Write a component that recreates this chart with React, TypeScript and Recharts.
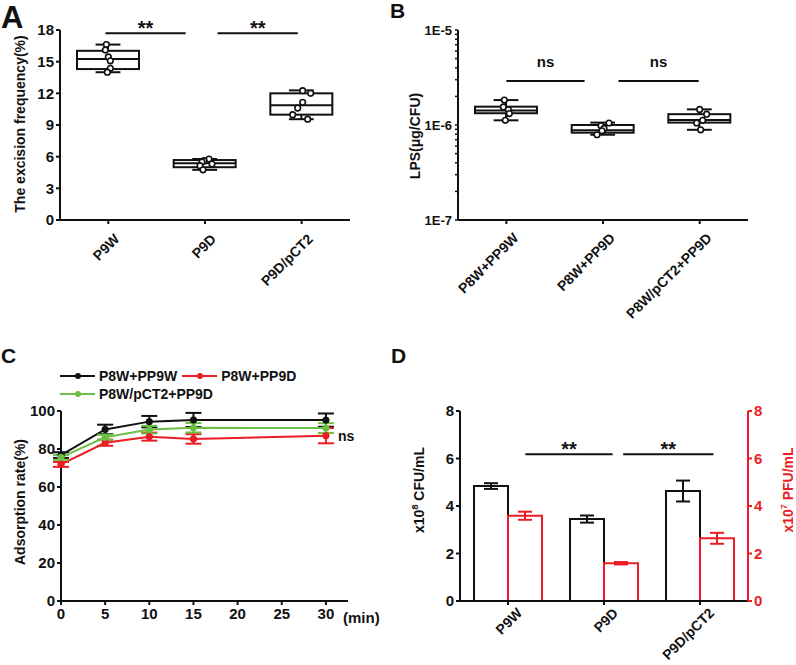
import React from "react";
import {
  Bar,
  ComposedChart,
  ErrorBar,
  Legend,
  Line,
  LineChart,
  ReferenceDot,
  ReferenceLine,
  Scatter,
  XAxis,
  YAxis,
} from "recharts";

const FONT = '"Liberation Sans", Arial, Helvetica, sans-serif';
const INK = "#111";
const RED = "#ec1c24";
const GREEN = "#6cbf44";

// ---- A: excision frequency ----
const A_CATS = ["P9W", "P9D", "P9D/pCT2"];
const A_MIN = [14.0, 4.75, 9.55];
const A_Q1 = [14.3, 5.0, 9.98];
const A_MED = [15.25, 5.37, 10.87];
const A_Q3 = [16.03, 5.68, 12.0];
const A_MAX = [16.62, 5.78, 12.28];
const A_POINTS = [
  [16.62, 16.1, 15.45, 15.08, 14.37, 14.0],
  [5.78, 5.62, 5.5, 5.3, 5.15, 4.75],
  [12.25, 12.0, 11.15, 10.6, 9.98, 9.55],
];
const A_TICKS = [0, 3, 6, 9, 12, 15, 18];
const A_SIG_Y = 17.7;

// ---- B: LPS ----
const B_CATS = ["P8W+PP9W", "P8W+PP9D", "P8W/pCT2+PP9D"];
const B_MIN = [1.12e-6, 0.79e-6, 0.89e-6];
const B_Q1 = [1.33e-6, 0.83e-6, 1.06e-6];
const B_MED = [1.42e-6, 0.88e-6, 1.13e-6];
const B_Q3 = [1.56e-6, 1.0e-6, 1.3e-6];
const B_MAX = [1.83e-6, 1.06e-6, 1.46e-6];
const B_POINTS = [
  [1.83e-6, 1.55e-6, 1.45e-6, 1.32e-6, 1.12e-6],
  [1.05e-6, 0.98e-6, 0.92e-6, 0.87e-6, 0.79e-6],
  [1.46e-6, 1.3e-6, 1.12e-6, 1.05e-6, 0.89e-6],
];
const B_TICKS = [
  1e-7, 2e-7, 3e-7, 4e-7, 5e-7, 6e-7, 7e-7, 8e-7, 9e-7,
  1e-6, 2e-6, 3e-6, 4e-6, 5e-6, 6e-6, 7e-6, 8e-6, 9e-6, 1e-5,
];
const B_SIG_Y = 2.9e-6;

// ---- C: adsorption rate ----
const C_TIME = [0, 5, 10, 15, 30];
const C_PP9W = [76.8, 90.3, 94.4, 95.3, 95.2];
const C_PP9W_ERR = [1.5, 2.5, 3, 3.7, 3.5];
const C_PP9D = [71.9, 83.3, 86.5, 85.3, 87];
const C_PP9D_ERR = [1.3, 1.6, 2.1, 2.5, 4];
const C_PCT2 = [75.6, 86.2, 90.2, 91.2, 91];
const C_PCT2_ERR = [1.3, 1.3, 2, 2.5, 2.6];
const C_XTICKS = [0, 5, 10, 15, 20, 25, 30];
const C_YTICKS = [0, 20, 40, 60, 80, 100];
const C_NAMES = ["P8W+PP9W", "P8W+PP9D", "P8W/pCT2+PP9D"];

// ---- D: CFU / PFU ----
const D_CATS = ["P9W", "P9D", "P9D/pCT2"];
const D_CFU = [4.84, 3.45, 4.63];
const D_CFU_ERR = [0.12, 0.15, 0.44];
const D_PFU = [3.59, 1.59, 2.64];
const D_PFU_ERR = [0.17, 0.05, 0.23];
const D_TICKS = [0, 2, 4, 6, 8];
const D_SIG_Y = 6.18;

// significance bars: drawn between two category centres, trimmed (fraction of the gap)
const A_SIG_TRIM = [
  [-0.03, 0.8],
  [0.13, 0.96],
];
const B_SIG_TRIM = [
  [0.0, 0.81],
  [0.16, 0.99],
];
const D_SIG_TRIM = [
  [0.18, 1.09],
  [0.2, 1.14],
];

// horizontal scatter jitter (px) per category / point
const A_JITTER = [
  [-2, -3, 0, 2, 2, -1],
  [4, -1, -3, 7, -5, -2],
  [1, 9, 1, -4, -9, 6],
];
const B_JITTER = [
  [-2, -3, 2, 3, -1],
  [6, -2, 1, -1, -6],
  [0, 7, 3, -3, 1],
];

const axisStyle = { stroke: INK, strokeWidth: 2 };
const tickFont = { fill: INK, fontSize: 15, fontWeight: 700, fontFamily: FONT };

function boxTable(cats: string[], mn: number[], q1: number[], med: number[], q3: number[], mx: number[], pts: number[][]) {
  return cats.map((name, i) => {
    const row: any = { name, range: [mn[i], mx[i]], min: mn[i], q1: q1[i], med: med[i], q3: q3[i], max: mx[i] };
    pts[i].forEach((v, j) => (row[`p${j}`] = v));
    return row;
  });
}

function BoxShape(props: any) {
  const { x, y, width, height, payload, log } = props;
  if (!payload || height == null) return null;
  const f = log ? Math.log10 : (v: number) => v;
  const top = f(payload.max);
  const bot = f(payload.min);
  const py = (v: number) => y + (height * (top - f(v))) / (top - bot);
  const cx = x + width / 2;
  const cap = width * 0.2;
  return (
    <g stroke={INK} strokeWidth={2} fill="none">
      <line x1={cx} x2={cx} y1={py(payload.max)} y2={py(payload.q3)} />
      <line x1={cx} x2={cx} y1={py(payload.q1)} y2={py(payload.min)} />
      <line x1={cx - cap} x2={cx + cap} y1={py(payload.max)} y2={py(payload.max)} />
      <line x1={cx - cap} x2={cx + cap} y1={py(payload.min)} y2={py(payload.min)} />
      <rect x={x} y={py(payload.q3)} width={width} height={py(payload.q1) - py(payload.q3)} fill="#fff" />
      <line x1={x} x2={x + width} y1={py(payload.med)} y2={py(payload.med)} />
    </g>
  );
}

const pointShape = (cats: string[], jitter: number[][], j: number) => (p: any) => {
  const ci = cats.indexOf(p.payload?.name);
  const dx = ci >= 0 ? jitter[ci][j] || 0 : 0;
  return <circle cx={p.cx + dx} cy={p.cy} r={2.8} fill="#fff" stroke={INK} strokeWidth={1.6} />;
};

const sigShape = (text: string, dy: number, size: number, trim: number[]) => (p: any) => {
  const span = p.x2 - p.x1;
  const xa = p.x1 + trim[0] * span;
  const xb = p.x1 + trim[1] * span;
  return (
    <g>
      <line x1={xa} y1={p.y1} x2={xb} y2={p.y2} stroke={INK} strokeWidth={2} />
      <text
        x={(xa + xb) / 2}
        y={p.y1 + dy}
        textAnchor="middle"
        fontSize={size}
        fontWeight={700}
        fontFamily={FONT}
        fill={INK}
      >
        {text}
      </text>
    </g>
  );
};

const sigLines = (cats: string[], yv: number, trims: number[][], text: string, dy: number, size: number, yAxisId?: string) =>
  trims.map((t, i) => (
    <ReferenceLine
      key={`sig${i}`}
      {...(yAxisId ? { yAxisId } : {})}
      ifOverflow="visible"
      segment={[
        { x: cats[i], y: yv },
        { x: cats[i + 1], y: yv },
      ]}
      shape={sigShape(text, dy, size, t)}
    />
  ));

const RotTick = (dx: number, dy: number) => (p: any) => {
  const ax = p.x + dx;
  const ay = p.y + dy;
  return (
    <text
      x={ax}
      y={ay}
      transform={`rotate(-45 ${ax} ${ay})`}
      textAnchor="end"
      fontSize={14}
      fontWeight={700}
      fontFamily={FONT}
      fill={INK}
    >
      {p.payload.value}
    </text>
  );
};

const vLabel = (text: React.ReactNode, x: number, y: number, fill = INK) => () => (
  <text
    x={x}
    y={y}
    transform={`rotate(-90 ${x} ${y})`}
    textAnchor="middle"
    fontSize={14}
    fontWeight={700}
    fontFamily={FONT}
    fill={fill}
  >
    {text}
  </text>
);

function PanelA() {
  const data = boxTable(A_CATS, A_MIN, A_Q1, A_MED, A_Q3, A_MAX, A_POINTS);
  return (
    <ComposedChart width={398} height={320} data={data} margin={{ top: 30, right: 48, bottom: 0, left: 0 }}>
      <XAxis
        dataKey="name"
        height={100}
        axisLine={axisStyle}
        tickLine={axisStyle}
        tickSize={4}
        tickMargin={2}
        tick={RotTick(12, 14)}
        interval={0}
      />
      <YAxis
        width={60}
        domain={[0, 18]}
        ticks={A_TICKS}
        axisLine={axisStyle}
        tickLine={axisStyle}
        tickSize={4}
        tickMargin={2}
        tick={tickFont}
        label={{ content: vLabel("The excision frequency(%)", 25, 124) }}
      />
      <Bar dataKey="range" barSize={62} shape={(p: any) => <BoxShape {...p} />} isAnimationActive={false} />
      {A_POINTS[0].map((_, j) => (
        <Scatter key={j} dataKey={`p${j}`} shape={pointShape(A_CATS, A_JITTER, j)} isAnimationActive={false} />
      ))}
      {sigLines(A_CATS, A_SIG_Y, A_SIG_TRIM, "**", 2, 20)}
    </ComposedChart>
  );
}

function PanelB() {
  const data = boxTable(B_CATS, B_MIN, B_Q1, B_MED, B_Q3, B_MAX, B_POINTS);
  const logTick = (p: any) => {
    const v = p.payload.value;
    const e = Math.round(Math.log10(v));
    if (Math.abs(Math.log10(v) - e) > 1e-6) return null;
    return (
      <text x={p.x} y={p.y} dy={5} textAnchor="end" fontSize={13} fontWeight={700} fontFamily={FONT} fill={INK}>
        {`1E${e}`}
      </text>
    );
  };
  return (
    <ComposedChart width={398} height={330} data={data} margin={{ top: 30, right: 48, bottom: 0, left: 0 }}>
      <XAxis
        dataKey="name"
        height={110}
        axisLine={axisStyle}
        tickLine={axisStyle}
        tickSize={4}
        tickMargin={2}
        tick={RotTick(13, 13)}
        interval={0}
      />
      <YAxis
        width={60}
        scale="log"
        domain={[1e-7, 1e-5]}
        ticks={B_TICKS}
        interval={0}
        axisLine={axisStyle}
        tickLine={{ stroke: INK, strokeWidth: 1.5 }}
        tickSize={3}
        tickMargin={3}
        tick={logTick}
        label={{ content: vLabel("LPS(μg/CFU)", 22, 136) }}
      />
      <Bar dataKey="range" barSize={62} shape={(p: any) => <BoxShape {...p} log />} isAnimationActive={false} />
      {B_POINTS[0].map((_, j) => (
        <Scatter key={j} dataKey={`p${j}`} shape={pointShape(B_CATS, B_JITTER, j)} isAnimationActive={false} />
      ))}
      {sigLines(B_CATS, B_SIG_Y, B_SIG_TRIM, "ns", -14, 15)}
    </ComposedChart>
  );
}

function CLegend(props: any) {
  const items = [...(props.payload || [])].sort(
    (a: any, b: any) => C_NAMES.indexOf(a.value) - C_NAMES.indexOf(b.value)
  );
  return (
    <div
      style={{
        display: "flex",
        flexWrap: "wrap",
        width: 250,
        columnGap: 5,
        fontFamily: FONT,
        fontWeight: 700,
        fontSize: 14,
        lineHeight: "18px",
        color: INK,
      }}
    >
      {items.map((it: any) => (
        <div key={it.value} style={{ display: "flex", alignItems: "center" }}>
          <svg width={36} height={10} style={{ marginRight: 3 }}>
            <line x1={0} x2={35} y1={5} y2={5} stroke={it.color} strokeWidth={2} />
            <circle cx={18} cy={5} r={3} fill={it.color} />
          </svg>
          <span>{it.value}</span>
        </div>
      ))}
    </div>
  );
}

function PanelC() {
  const data = C_TIME.map((t, i) => ({
    t,
    w: C_PP9W[i],
    wErr: C_PP9W_ERR[i],
    d: C_PP9D[i],
    dErr: C_PP9D_ERR[i],
    c: C_PCT2[i],
    cErr: C_PCT2_ERR[i],
  }));
  const series = [
    { key: "w", err: "wErr", name: C_NAMES[0], color: INK },
    { key: "d", err: "dErr", name: C_NAMES[1], color: RED },
    { key: "c", err: "cErr", name: C_NAMES[2], color: GREEN },
  ];
  return (
    <LineChart width={398} height={335} data={data} margin={{ top: 81, right: 50, bottom: 0, left: 0 }}>
      <XAxis
        dataKey="t"
        type="number"
        domain={[0, 32.5]}
        ticks={C_XTICKS}
        height={64}
        axisLine={axisStyle}
        tickLine={axisStyle}
        tickSize={4}
        tickMargin={3}
        tick={tickFont}
        label={{
          content: (p: any) => (
            <text
              x={p.viewBox.x + p.viewBox.width - 5}
              y={p.viewBox.y + 22}
              fontSize={15}
              fontWeight={700}
              fontFamily={FONT}
              fill={INK}
            >
              (min)
            </text>
          ),
        }}
      />
      <YAxis
        width={61}
        domain={[0, 100]}
        ticks={C_YTICKS}
        axisLine={axisStyle}
        tickLine={axisStyle}
        tickSize={4}
        tickMargin={2}
        tick={tickFont}
        label={{ content: vLabel("Adsorption rate(%)", 25, 172) }}
      />
      <Legend
        content={CLegend}
        layout="horizontal"
        verticalAlign="middle"
        align="center"
        wrapperStyle={{ left: 60, top: 37, width: 250 }}
      />
      {series.map((s) => (
        <Line
          key={s.key}
          dataKey={s.key}
          name={s.name}
          stroke={s.color}
          strokeWidth={2}
          dot={{ r: 3.2, fill: s.color, stroke: s.color, strokeWidth: 1 }}
          isAnimationActive={false}
        >
          <ErrorBar dataKey={s.err} width={8} stroke={s.color} strokeWidth={2} direction="y" />
        </Line>
      ))}
      <ReferenceDot
        x={30}
        y={86.8}
        r={0}
        fill="none"
        stroke="none"
        label={{ value: "ns", position: "right", offset: 12, fill: INK, fontSize: 14, fontWeight: 700, fontFamily: FONT }}
      />
    </LineChart>
  );
}

function PanelD() {
  const data = D_CATS.map((name, i) => ({
    name,
    cfu: D_CFU[i],
    cfuErr: D_CFU_ERR[i],
    pfu: D_PFU[i],
    pfuErr: D_PFU_ERR[i],
  }));
  const redAxis = { stroke: RED, strokeWidth: 2 };
  return (
    <ComposedChart
      width={396}
      height={335}
      data={data}
      barGap={0}
      margin={{ top: 81, right: 0, bottom: 0, left: 0 }}
    >
      <XAxis
        dataKey="name"
        height={64}
        axisLine={axisStyle}
        tickLine={axisStyle}
        tickSize={4}
        tickMargin={2}
        tick={RotTick(15, 7)}
        interval={0}
      />
      <YAxis
        yAxisId="l"
        width={60}
        domain={[0, 8]}
        ticks={D_TICKS}
        axisLine={axisStyle}
        tickLine={axisStyle}
        tickSize={4}
        tickMargin={2}
        tick={tickFont}
        label={{
          content: vLabel(
            <>
              x10<tspan dy={-6} fontSize={9}>8</tspan>
              <tspan dy={6}> CFU/mL</tspan>
            </>,
            24,
            160
          ),
        }}
      />
      <YAxis
        yAxisId="r"
        orientation="right"
        width={48}
        domain={[0, 8]}
        ticks={D_TICKS}
        axisLine={redAxis}
        tickLine={redAxis}
        tickSize={4}
        tickMargin={2}
        tick={{ ...tickFont, fill: RED }}
        label={{
          content: vLabel(
            <>
              x10<tspan dy={-6} fontSize={9}>7</tspan>
              <tspan dy={6}> PFU/mL</tspan>
            </>,
            393,
            160,
            RED
          ),
        }}
      />
      <Bar yAxisId="l" dataKey="cfu" barSize={34} fill="#fff" stroke={INK} strokeWidth={2} isAnimationActive={false}>
        <ErrorBar dataKey="cfuErr" width={7} stroke={INK} strokeWidth={2} direction="y" />
      </Bar>
      <Bar yAxisId="r" dataKey="pfu" barSize={34} fill="#fff" stroke={RED} strokeWidth={2} isAnimationActive={false}>
        <ErrorBar dataKey="pfuErr" width={7} stroke={RED} strokeWidth={2} direction="y" />
      </Bar>
      {sigLines(D_CATS, D_SIG_Y, D_SIG_TRIM, "**", 2, 20, "l")}
    </ComposedChart>
  );
}

export default function App() {
  const letter = { fontFamily: FONT, fontWeight: 700, fill: INK };
  return (
    <div style={{ position: "absolute", left: 0, top: 0, width: 796, height: 665, background: "#fff", fontFamily: FONT }}>
      <div style={{ position: "absolute", left: 0, top: 0 }}>
        <PanelA />
      </div>
      <div style={{ position: "absolute", left: 398, top: 0 }}>
        <PanelB />
      </div>
      <div style={{ position: "absolute", left: 0, top: 330 }}>
        <PanelC />
      </div>
      <div style={{ position: "absolute", left: 400, top: 330 }}>
        <PanelD />
      </div>
      <svg width={796} height={665} style={{ position: "absolute", left: 0, top: 0, pointerEvents: "none" }}>
        <text x={1} y={28} fontSize={31} {...letter}>A</text>
        <text x={390} y={18} fontSize={21} {...letter}>B</text>
        <text x={1} y={363} fontSize={21} {...letter}>C</text>
        <text x={391} y={363} fontSize={21} {...letter}>D</text>
      </svg>
    </div>
  );
}
